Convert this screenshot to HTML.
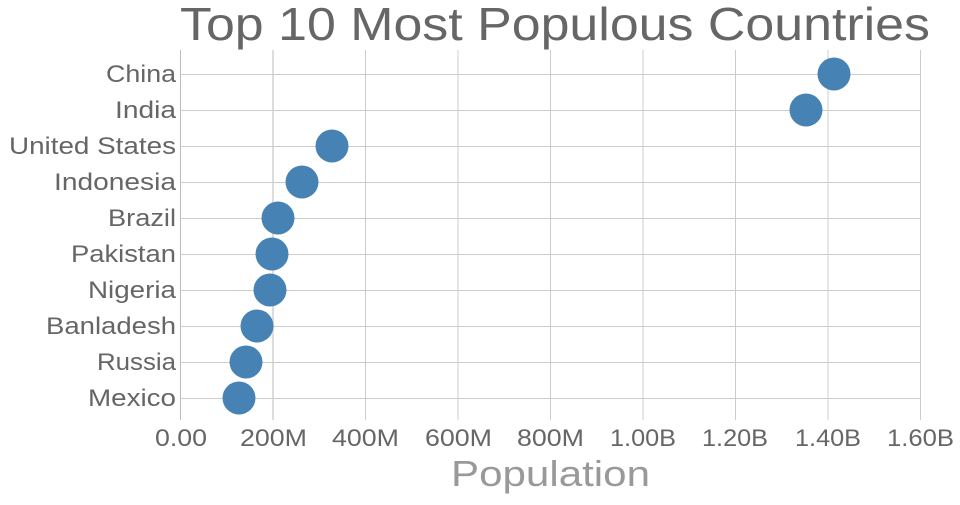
<!DOCTYPE html>
<html><head><meta charset="utf-8"><style>
html,body{margin:0;padding:0;background:#fff}
svg text{font-family:"Liberation Sans",sans-serif}
</style></head><body>
<svg width="960" height="500" xmlns="http://www.w3.org/2000/svg">
<g stroke="#ccc" stroke-width="1">
<line x1="180.5" y1="50" x2="180.5" y2="420" stroke="#bbb"/>
<line x1="273" y1="50" x2="273" y2="420" stroke="#ddd" stroke-width="2"/>
<line x1="365.5" y1="50" x2="365.5" y2="420"/>
<line x1="458" y1="50" x2="458" y2="420"/>
<line x1="550.5" y1="50" x2="550.5" y2="420"/>
<line x1="643" y1="50" x2="643" y2="420"/>
<line x1="735.5" y1="50" x2="735.5" y2="420"/>
<line x1="828" y1="50" x2="828" y2="420"/>
<line x1="920.5" y1="50" x2="920.5" y2="420"/>
<line x1="181" y1="74.5" x2="920" y2="74.5"/>
<line x1="181" y1="110.5" x2="920" y2="110.5"/>
<line x1="181" y1="146.5" x2="920" y2="146.5"/>
<line x1="181" y1="182.5" x2="920" y2="182.5"/>
<line x1="181" y1="218.5" x2="920" y2="218.5"/>
<line x1="181" y1="254.5" x2="920" y2="254.5"/>
<line x1="181" y1="290.5" x2="920" y2="290.5"/>
<line x1="181" y1="326.5" x2="920" y2="326.5"/>
<line x1="181" y1="362.5" x2="920" y2="362.5"/>
<line x1="181" y1="398.5" x2="920" y2="398.5"/>
</g>
<g fill="#4682b4">
<circle cx="834" cy="74" r="16.5"/>
<circle cx="806" cy="110" r="16.5"/>
<circle cx="332" cy="146" r="16.5"/>
<circle cx="302" cy="182" r="16.5"/>
<circle cx="278" cy="218" r="16.5"/>
<circle cx="272" cy="254" r="16.5"/>
<circle cx="270" cy="290" r="16.5"/>
<circle cx="257" cy="326" r="16.5"/>
<circle cx="246" cy="362" r="16.5"/>
<circle cx="239" cy="398" r="16.5"/>
</g>
<g fill="#666" font-size="24" lengthAdjust="spacingAndGlyphs">
<text x="106" y="82" textLength="70" lengthAdjust="spacingAndGlyphs">China</text>
<text x="115" y="118" textLength="61" lengthAdjust="spacingAndGlyphs">India</text>
<text x="9" y="154" textLength="167" lengthAdjust="spacingAndGlyphs">United States</text>
<text x="54" y="190" textLength="122" lengthAdjust="spacingAndGlyphs">Indonesia</text>
<text x="108" y="226" textLength="68" lengthAdjust="spacingAndGlyphs">Brazil</text>
<text x="71" y="262" textLength="105" lengthAdjust="spacingAndGlyphs">Pakistan</text>
<text x="88" y="298" textLength="88" lengthAdjust="spacingAndGlyphs">Nigeria</text>
<text x="46" y="334" textLength="130" lengthAdjust="spacingAndGlyphs">Banladesh</text>
<text x="97" y="370" textLength="79" lengthAdjust="spacingAndGlyphs">Russia</text>
<text x="88" y="406" textLength="88" lengthAdjust="spacingAndGlyphs">Mexico</text>
</g>
<g fill="#666" font-size="24">
<text x="155" y="446" textLength="52" lengthAdjust="spacingAndGlyphs">0.00</text>
<text x="240" y="446" textLength="67" lengthAdjust="spacingAndGlyphs">200M</text>
<text x="332" y="446" textLength="67" lengthAdjust="spacingAndGlyphs">400M</text>
<text x="425" y="446" textLength="67" lengthAdjust="spacingAndGlyphs">600M</text>
<text x="517" y="446" textLength="67" lengthAdjust="spacingAndGlyphs">800M</text>
<text x="610" y="446" textLength="66" lengthAdjust="spacingAndGlyphs">1.00B</text>
<text x="702" y="446" textLength="66" lengthAdjust="spacingAndGlyphs">1.20B</text>
<text x="795" y="446" textLength="66" lengthAdjust="spacingAndGlyphs">1.40B</text>
<text x="887" y="446" textLength="67" lengthAdjust="spacingAndGlyphs">1.60B</text>
</g>
<text x="451" y="486" font-size="36" fill="#999" textLength="199" lengthAdjust="spacingAndGlyphs">Population</text>
<text x="180" y="40" font-size="46" fill="#666" textLength="750" lengthAdjust="spacingAndGlyphs">Top 10 Most Populous Countries</text>
</svg>
</body></html>
